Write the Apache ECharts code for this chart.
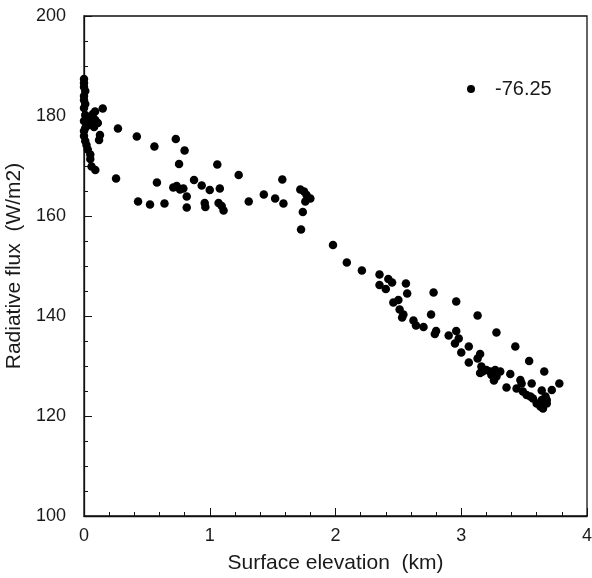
<!DOCTYPE html>
<html>
<head>
<meta charset="utf-8">
<script src="https://cdn.jsdelivr.net/npm/echarts@6/dist/echarts.min.js"></script>
<style>
html,body{margin:0;padding:0;background:#fff;}
#chart{width:592px;height:578px;}
</style>
</head>
<body>
<div id="chart"></div>
<script>
// Surface elevation (km)
const elevation = [
  0.00,0.00,0.00,0.01,0.00,0.00,0.01,0.00,
  0.01,0.03,0.05,0.07,0.09,0.11,0.02,0.04,0.06,0.00,0.01,0.08,0.088,0.149,0.127,0.12,
  0.00,0.00,0.01,0.02,0.03,0.05,0.05,0.06,0.09,
  0.27,0.42,0.56,0.73,0.80,0.756,1.06,1.23,0.255,0.58,
  0.71,0.737,0.764,0.79,0.875,0.936,1.00,1.08,0.817,0.43,0.525,0.64,0.817,0.96,0.965,1.07,1.095,1.11,1.31,
  1.43,1.577,1.52,1.586,1.72,1.75,1.77,1.80,1.76,1.74,1.726,
  1.98,2.09,2.21,2.35,2.42,2.45,2.35,2.40,2.56,2.57,2.78,2.96,2.46,2.50,2.51,2.54,2.53,2.62,2.64,2.70,2.76,3.13,
  2.80,2.79,2.96,2.98,2.90,2.95,3.06,3.00,3.28,3.15,3.13,3.06,
  3.43,3.54,3.66,3.78,3.72,
  3.16,3.17,3.20,3.23,3.24,3.27,3.28,3.26,3.31,3.15,
  3.39,3.36,3.44,3.47,3.48,3.56,3.49,3.52,3.55,3.57,
  3.64,3.67,3.68,3.64,3.60,3.63,3.65,3.68
];
// Radiative flux (W/m2)
const flux = [
  187.4,186.6,185.8,185.0,184.0,183.2,182.4,181.6,
  180.2,179.8,179.5,180.4,179.2,178.6,178.6,178.2,178.9,179.0,177.6,177.8,180.9,181.5,176.2,175.2,
  177.0,176.0,175.0,174.2,173.3,172.3,171.4,169.9,169.2,
  177.5,175.9,173.9,175.4,173.1,170.4,170.3,168.2,167.5,166.7,
  165.7,166.0,165.3,165.5,167.2,166.1,165.2,165.5,163.9,162.9,162.3,162.5,161.7,162.6,161.8,162.6,162.0,161.1,162.9,
  164.3,167.3,163.5,162.5,165.3,164.9,164.2,163.5,162.9,160.8,157.3,
  154.2,150.7,149.1,148.3,147.4,146.7,146.2,145.4,146.5,144.5,144.7,142.9,142.7,143.2,141.3,140.3,139.7,139.1,138.1,137.8,140.3,140.1,
  137.0,136.4,137.0,135.5,136.1,134.5,133.9,132.7,136.7,132.4,131.5,130.7,
  133.9,131.0,128.9,126.5,125.2,
  129.9,128.9,129.2,128.9,128.2,129.2,127.9,127.1,128.9,128.6,
  128.4,125.7,125.5,127.2,126.5,126.5,124.9,124.2,123.9,123.5,
  125.1,123.9,123.2,123.2,122.5,121.9,121.5,122.5
];
const seriesName = '-76.25';
const xTicks = [0, 1, 2, 3, 4];
const yTicks = [100, 120, 140, 160, 180, 200];

const points = elevation.map((x, i) => [x, flux[i]]);
const font = '"Liberation Sans", Arial, Helvetica, sans-serif';
const chart = echarts.init(document.getElementById('chart'));
chart.setOption({
  backgroundColor: '#fff',
  animation: false,
  textStyle: { fontFamily: font, color: '#1a1a1a' },
  grid: {
    left: 84, top: 16, right: 5, bottom: 62,
    containLabel: false, outerBoundsMode: 'none',
    show: true, borderColor: '#111', borderWidth: 1.3, backgroundColor: 'transparent'
  },
  legend: {
    show: true,
    data: [seriesName],
    left: 462, top: 74,
    icon: 'circle',
    itemWidth: 8, itemHeight: 8,
    textStyle: { fontFamily: font, fontSize: 20, color: '#1a1a1a', padding: [0, 0, 0, 15] }
  },
  xAxis: {
    type: 'value',
    min: xTicks[0], max: xTicks[xTicks.length - 1], interval: 1,
    name: 'Surface elevation  (km)',
    nameLocation: 'middle', nameGap: 37,
    nameTextStyle: { fontFamily: font, fontSize: 21, color: '#1a1a1a' },
    axisLine: { show: true, lineStyle: { color: '#111', width: 1.3 } },
    axisTick: { show: true, inside: true, length: 8, lineStyle: { color: '#111' } },
    minorTick: { show: true, splitNumber: 5, length: 4, lineStyle: { color: '#111' } },
    axisLabel: { fontFamily: font, fontSize: 18, color: '#1a1a1a', margin: 11 },
    splitLine: { show: false }
  },
  yAxis: {
    type: 'value',
    min: yTicks[0], max: yTicks[yTicks.length - 1], interval: 20,
    name: 'Radiative flux  (W/m2)',
    nameLocation: 'middle', nameGap: 54, nameRotate: 90,
    nameTextStyle: { fontFamily: font, fontSize: 21, color: '#1a1a1a' },
    axisLine: { show: true, lineStyle: { color: '#111', width: 1.3 } },
    axisTick: { show: true, inside: true, length: 8, lineStyle: { color: '#111' } },
    minorTick: { show: true, splitNumber: 4, length: 4, lineStyle: { color: '#111' } },
    axisLabel: { fontFamily: font, fontSize: 18, color: '#1a1a1a', margin: 18 },
    splitLine: { show: false }
  },
  series: [{
    name: seriesName,
    type: 'scatter',
    data: points,
    symbol: 'circle',
    symbolSize: 8.5,
    clip: false,
    itemStyle: { color: '#000', opacity: 1 }
  }]
});
</script>
</body>
</html>
